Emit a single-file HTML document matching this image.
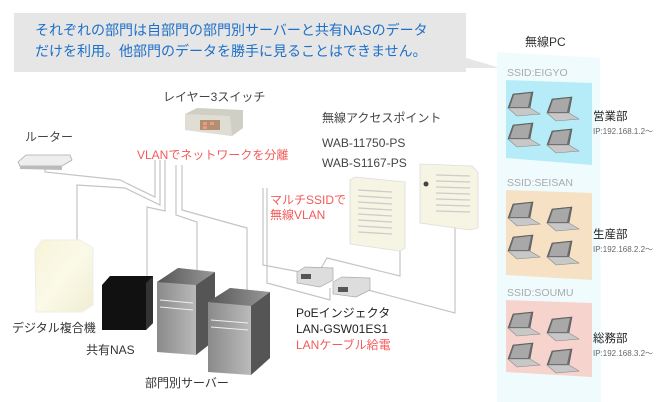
<!DOCTYPE html>
<html><head><meta charset="utf-8"><style>
html,body{margin:0;padding:0;background:#fff;}
svg{display:block;font-family:"Liberation Sans","Noto Sans CJK JP",sans-serif;}
</style></head><body>
<svg width="670" height="402" viewBox="0 0 670 402" xmlns="http://www.w3.org/2000/svg">
<defs>
<linearGradient id="srv" x1="0" x2="1"><stop offset="0" stop-color="#8a8a8a"/><stop offset="1" stop-color="#d0d0d0"/></linearGradient>
<linearGradient id="srvt" x1="0" x2="1"><stop offset="0" stop-color="#555"/><stop offset="1" stop-color="#999"/></linearGradient>
<linearGradient id="cop" x1="0" y1="0" x2="1" y2="1"><stop offset="0" stop-color="#f6f3d6"/><stop offset=".5" stop-color="#fbfae8"/><stop offset="1" stop-color="#efedd0"/></linearGradient>
<g id="lap">
<polygon points="0,14 5,0 25,-2 22,14" fill="#6c6c6c" stroke="#555" stroke-width=".6"/>
<polygon points="2,13 6,1 23,-1 20,13" fill="#a8a8a8"/>
<polygon points="0,14 22,14 32,20 9,22" fill="#c8c8c8" stroke="#888" stroke-width=".6"/>
</g>
</defs>
<rect x="14" y="13" width="452" height="59" fill="#e6e6e6"/>
<polygon points="440,50 500,68 440,68" fill="#e6e6e6"/>
<text x="35" y="35" font-size="14" fill="#1e6fc8">それぞれの部門は自部門の部門別サーバーと共有NASのデータ</text>
<text x="35" y="56" font-size="14" fill="#1e6fc8">だけを利用。他部門のデータを勝手に見ることはできません。</text>
<polygon points="497,52 600,58 601,402 497,402" fill="#effbfd"/>
<text x="525" y="46" font-size="12" fill="#333">無線PC</text>
<text x="507" y="76" font-size="10.5" fill="#aaa">SSID:EIGYO</text>
<polygon points="506,80 592,83 592,165 506,158" fill="#b6ecf8"/>
<text x="507" y="186" font-size="10.5" fill="#aaa">SSID:SEISAN</text>
<polygon points="506,190 592,193 592,280 506,275" fill="#f6e1c4"/>
<text x="507" y="296" font-size="10.5" fill="#aaa">SSID:SOUMU</text>
<polygon points="506,300 592,303 592,377 506,372" fill="#f6d3cc"/>
<use href="#lap" x="508" y="94"/><use href="#lap" x="547" y="99"/><use href="#lap" x="508" y="125"/><use href="#lap" x="547" y="131"/>
<use href="#lap" x="508" y="204"/><use href="#lap" x="547" y="209"/><use href="#lap" x="508" y="237"/><use href="#lap" x="547" y="243"/>
<use href="#lap" x="508" y="314"/><use href="#lap" x="547" y="319"/><use href="#lap" x="508" y="345"/><use href="#lap" x="547" y="351"/>
<text x="593" y="120" font-size="11.5" fill="#222">営業部</text>
<text x="593" y="134" font-size="8" fill="#666">IP:192.168.1.2～</text>
<text x="593" y="238" font-size="11.5" fill="#222">生産部</text>
<text x="593" y="252" font-size="8" fill="#666">IP:192.168.2.2～</text>
<text x="593" y="342" font-size="11.5" fill="#222">総務部</text>
<text x="593" y="356" font-size="8" fill="#666">IP:192.168.3.2～</text>
<g fill="none" stroke="#c4c4c4" stroke-width="1.2">
<polyline points="45,168 45,172 120,180 155,197 155,160"/>
<polyline points="77,240 77,185 125,188 160,205 160,160"/>
<polyline points="147,280 147,207 165,211 165,160"/>
<polyline points="197,270 197,222 176,215 176,165"/>
<polyline points="247,290 247,228 182,210 182,165"/>
<polyline points="263,188 263,265 300,272"/>
<polyline points="267,188 267,283 330,300 330,288"/>
<polyline points="320,270 327,258 400,276 400,245"/>
<polyline points="368,290 455,313 455,226"/>
</g>
<polygon points="18,162 26,155 70,155 72,160 62,166 20,166" fill="#eee" stroke="#aaa" stroke-width=".8"/>
<polygon points="20,166 62,166 62,170 20,169" fill="#bbb"/>
<polygon points="185,114 197,108 243,110 243,128 232,136 185,130" fill="#cfcfc4"/>
<polygon points="185,114 230,116 232,136 185,130" fill="#e0ded4"/>
<rect x="200" y="120" width="20" height="10" fill="#b09070"/>
<rect x="203" y="122" width="4" height="3" fill="#e98"/><rect x="210" y="122" width="4" height="3" fill="#e98"/><rect x="203" y="126" width="4" height="3" fill="#e98"/>
<polygon points="350,180 355,177 405,182 405,248 400,251 350,244" fill="#f6f4e3" stroke="#ddd" stroke-width=".8"/>
<g stroke="#ccc" stroke-width="1.3">
<line x1="358" y1="190" x2="392" y2="192"/><line x1="358" y1="196" x2="392" y2="198"/><line x1="358" y1="202" x2="392" y2="204"/><line x1="358" y1="208" x2="392" y2="210"/><line x1="358" y1="214" x2="392" y2="216"/><line x1="358" y1="220" x2="392" y2="222"/><line x1="358" y1="226" x2="392" y2="228"/><line x1="358" y1="232" x2="392" y2="234"/>
</g>
<polygon points="420,164 472,166 478,172 478,228 470,230 420,223" fill="#f6f4e3" stroke="#ddd" stroke-width=".8"/>
<circle cx="426" cy="184" r="2.5" fill="#444"/>
<g stroke="#ccc" stroke-width="1.3">
<line x1="436" y1="175" x2="470" y2="176"/><line x1="436" y1="181" x2="470" y2="182"/><line x1="436" y1="187" x2="470" y2="188"/><line x1="436" y1="193" x2="470" y2="194"/><line x1="436" y1="199" x2="470" y2="200"/><line x1="436" y1="205" x2="470" y2="206"/><line x1="436" y1="211" x2="470" y2="212"/>
</g>
<polygon points="297,272 305,267 333,268 333,280 320,287 297,283" fill="#ddd" stroke="#aaa" stroke-width=".7"/>
<rect x="301" y="274" width="10" height="5" fill="#555"/>
<polygon points="333,282 342,277 370,278 370,290 356,297 333,294" fill="#ddd" stroke="#aaa" stroke-width=".7"/>
<rect x="338" y="287" width="10" height="5" fill="#555"/>
<polygon points="35,250 42,240 80,240 93,248 93,305 82,312 36,312" fill="url(#cop)" stroke="#eee"/>
<polygon points="102,285 110,276 153,276 153,323 146,330 102,330" fill="#111"/>
<polygon points="146,283 153,276 153,323 146,330" fill="#333"/>
<polygon points="157,282 178,268 215,272 215,340 196,355 157,352" fill="url(#srv)"/>
<polygon points="157,282 178,268 215,272 196,285" fill="url(#srvt)"/>
<polygon points="196,285 215,272 215,340 196,355" fill="#555"/>
<polygon points="208,302 230,288 270,292 270,358 251,375 208,372" fill="url(#srv)"/>
<polygon points="208,302 230,288 270,292 251,306" fill="url(#srvt)"/>
<polygon points="251,306 270,292 270,358 251,375" fill="#555"/>
<g stroke="#eee" stroke-width="1"><line x1="160" y1="300" x2="193" y2="303"/><line x1="160" y1="307" x2="193" y2="310"/><line x1="211" y1="320" x2="248" y2="323"/><line x1="211" y1="327" x2="248" y2="330"/></g>
<g font-size="12" fill="#444">
<text x="163" y="101">レイヤー3スイッチ</text>
<text x="25" y="141">ルーター</text>
<text x="322" y="122">無線アクセスポイント</text>
<text x="322" y="147">WAB-11750-PS</text>
<text x="322" y="167">WAB-S1167-PS</text>
<text x="296" y="317" fill="#222">PoEインジェクタ</text>
<text x="296" y="333" fill="#222">LAN-GSW01ES1</text>
<text x="12" y="332" fill="#333">デジタル複合機</text>
<text x="86" y="354" fill="#333">共有NAS</text>
<text x="145" y="387" fill="#333">部門別サーバー</text>
</g>
<g font-size="12" fill="#f45a5a">
<text x="137" y="159">VLANでネットワークを分離</text>
<text x="270" y="204">マルチSSIDで</text>
<text x="270" y="219">無線VLAN</text>
<text x="296" y="349">LANケーブル給電</text>
</g>
</svg>
</body></html>
